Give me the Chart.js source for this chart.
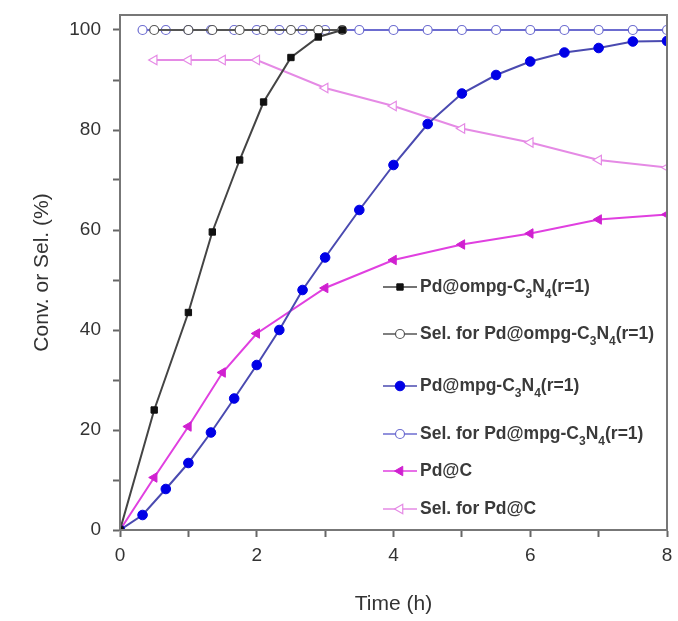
<!DOCTYPE html>
<html>
<head>
<meta charset="utf-8">
<script src="https://cdn.jsdelivr.net/npm/chart.js@4.4.1/dist/chart.umd.min.js"></script>
<style>
  body { margin: 0; background: #fff; }
</style>
</head>
<body>
<canvas id="convChart" width="678" height="621"></canvas>
<script>
const ompgTime = [0, 0.5, 1, 1.35, 1.75, 2.1, 2.5, 2.9, 3.25];
const ompgConv = [0, 24, 43.5, 59.6, 74, 85.6, 94.5, 98.6, 100];
const ompgSelTime = [0.5, 1, 1.35, 1.75, 2.1, 2.5, 2.9, 3.25];
const ompgSel = [100, 100, 100, 100, 100, 100, 100, 100];

const mpgTime = [0, 0.33, 0.67, 1, 1.33, 1.67, 2, 2.33, 2.67, 3, 3.5, 4, 4.5, 5, 5.5, 6, 6.5, 7, 7.5, 8];
const mpgConv = [0, 3, 8.2, 13.4, 19.5, 26.3, 33, 40, 48, 54.5, 64, 73, 81.2, 87.3, 91, 93.7, 95.5, 96.4, 97.7, 97.8];
const mpgSelTime = [0.33, 0.67, 1, 1.33, 1.67, 2, 2.33, 2.67, 3, 3.5, 4, 4.5, 5, 5.5, 6, 6.5, 7, 7.5, 8];
const mpgSel = [100, 100, 100, 100, 100, 100, 100, 100, 100, 100, 100, 100, 100, 100, 100, 100, 100, 100, 100];

const pdcTime = [0, 0.5, 1, 1.5, 2, 3, 4, 5, 6, 7, 8];
const pdcConv = [0, 10.5, 20.7, 31.5, 39.3, 48.4, 54, 57.1, 59.3, 62.1, 63.1];
const pdcSelTime = [0.5, 1, 1.5, 2, 3, 4, 5, 6, 7, 8];
const pdcSel = [94, 94, 94, 94, 88.4, 84.8, 80.3, 77.5, 74, 72.5];

// "_3" means subscript 3
const seriesLabels = [
  "Pd@ompg-C_3N_4(r=1)",
  "Sel. for Pd@ompg-C_3N_4(r=1)",
  "Pd@mpg-C_3N_4(r=1)",
  "Sel. for Pd@mpg-C_3N_4(r=1)",
  "Pd@C",
  "Sel. for Pd@C"
];

const xTicks = [0, 2, 4, 6, 8];
const yTicks = [0, 20, 40, 60, 80, 100];

function pts(xs, ys) {
  return xs.map((x, i) => ({x: x, y: ys[i]}));
}

const FONT = "'Liberation Sans', Arial, sans-serif";
const legendGaps = [47, 52, 48, 37, 38];

const frameAndLegend = {
  id: "frameAndLegend",
  afterDatasetsDraw(chart) {
    const ctx = chart.ctx;
    const a = chart.chartArea;
    ctx.save();
    ctx.strokeStyle = "#777";
    ctx.lineWidth = 2;
    ctx.strokeRect(a.left, a.top, a.right - a.left, a.bottom - a.top);

    // legend inside plot, lower right
    let y = a.bottom - 243;
    chart.data.datasets.forEach((ds, i) => {
      const x0 = a.left + 263;
      ctx.strokeStyle = ds.borderColor;
      ctx.lineWidth = 1.5;
      ctx.beginPath();
      ctx.moveTo(x0, y);
      ctx.lineTo(x0 + 34, y);
      ctx.stroke();
      ctx.fillStyle = ds.pointBackgroundColor;
      ctx.strokeStyle = ds.pointBorderColor;
      ctx.lineWidth = ds.pointBorderWidth;
      Chart.helpers.drawPoint(ctx, {
        pointStyle: ds.pointStyle,
        radius: ds.pointRadius,
        rotation: ds.pointRotation || 0,
        borderWidth: ds.pointBorderWidth
      }, x0 + 17, y);

      let tx = x0 + 37;
      const parts = ds.label.split(/_(\d)/);
      ctx.fillStyle = "#3a3a3a";
      ctx.textBaseline = "middle";
      parts.forEach((p, k) => {
        if (k % 2 == 1) {
          ctx.font = "bold 12px " + FONT;
          ctx.fillText(p, tx, y + 8);
        } else {
          ctx.font = "bold 17.5px " + FONT;
          ctx.fillText(p, tx, y);
        }
        tx += ctx.measureText(p).width;
      });
      y += legendGaps[i] || 0;
    });
    ctx.restore();
  }
};

const convData = {
  datasets: [
    {
      label: seriesLabels[0],
      data: pts(ompgTime, ompgConv),
      borderColor: "#444",
      pointBackgroundColor: "#111",
      pointBorderColor: "#111",
      pointStyle: "rect",
      pointRadius: 4.5,
      pointBorderWidth: 1
    },
    {
      label: seriesLabels[1],
      data: pts(ompgSelTime, ompgSel),
      borderColor: "#555",
      pointBackgroundColor: "#fff",
      pointBorderColor: "#555",
      pointStyle: "circle",
      pointRadius: 4.5,
      pointBorderWidth: 1.2
    },
    {
      label: seriesLabels[2],
      data: pts(mpgTime, mpgConv),
      borderColor: "#4a4ab0",
      pointBackgroundColor: "#0000e6",
      pointBorderColor: "#0000e6",
      pointStyle: "circle",
      pointRadius: 4.8,
      pointBorderWidth: 1
    },
    {
      label: seriesLabels[3],
      data: pts(mpgSelTime, mpgSel),
      borderColor: "#6c6cd0",
      pointBackgroundColor: "#fff",
      pointBorderColor: "#6c6cd0",
      pointStyle: "circle",
      pointRadius: 4.5,
      pointBorderWidth: 1.2
    },
    {
      label: seriesLabels[4],
      data: pts(pdcTime, pdcConv),
      borderColor: "#e040e0",
      pointBackgroundColor: "#d020d0",
      pointBorderColor: "#d020d0",
      pointStyle: "triangle",
      pointRotation: -90,
      pointRadius: 5.5,
      pointBorderWidth: 1
    },
    {
      label: seriesLabels[5],
      data: pts(pdcSelTime, pdcSel),
      borderColor: "#e58ae5",
      pointBackgroundColor: "#fff",
      pointBorderColor: "#e58ae5",
      pointStyle: "triangle",
      pointRotation: -90,
      pointRadius: 5.5,
      pointBorderWidth: 1.2
    }
  ]
};
convData.datasets.forEach(ds => {
  ds.borderWidth = 2;
  ds.tension = 0;
  ds.fill = false;
});

const convConfig = {
  type: "line",
  data: convData,
  options: {
    responsive: false,
    animation: false,
    events: [],
    layout: { padding: { top: 15, right: 11, left: 0, bottom: 0 } },
    plugins: {
      legend: { display: false },
      tooltip: { enabled: false }
    },
    scales: {
      x: {
        type: "linear",
        min: 0,
        max: 8,
        afterFit: (s) => { s.height = 91; s.paddingRight = 0; s.paddingLeft = 0; },
        ticks: {
          stepSize: 1,
          callback: (v) => xTicks.includes(v) ? v : "",
          color: "#333",
          font: { family: FONT, size: 19 },
          padding: 7,
          maxRotation: 0,
          autoSkip: false
        },
        grid: { drawOnChartArea: false, tickLength: 7, tickColor: "#666", tickWidth: 2 },
        border: { color: "#666", width: 2 },
        title: {
          display: true,
          text: "Time (h)",
          color: "#333",
          font: { family: FONT, size: 21 },
          padding: { top: 12 }
        }
      },
      y: {
        min: 0,
        max: 103,
        afterFit: (s) => { s.width = 120; s.paddingTop = 0; s.paddingBottom = 0; },
        ticks: {
          stepSize: 10,
          includeBounds: false,
          callback: (v) => yTicks.includes(v) ? v : "",
          color: "#333",
          font: { family: FONT, size: 19 },
          padding: 12,
          autoSkip: false
        },
        grid: { drawOnChartArea: false, tickLength: 7, tickColor: "#666", tickWidth: 2 },
        border: { color: "#666", width: 2 },
        title: {
          display: true,
          text: "Conv. or Sel. (%)",
          color: "#333",
          font: { family: FONT, size: 21 },
          padding: { top: 30, bottom: 0 }
        }
      }
    }
  },
  plugins: [frameAndLegend]
};

const convChart = new Chart(document.getElementById("convChart"), convConfig);
</script>
</body>
</html>
